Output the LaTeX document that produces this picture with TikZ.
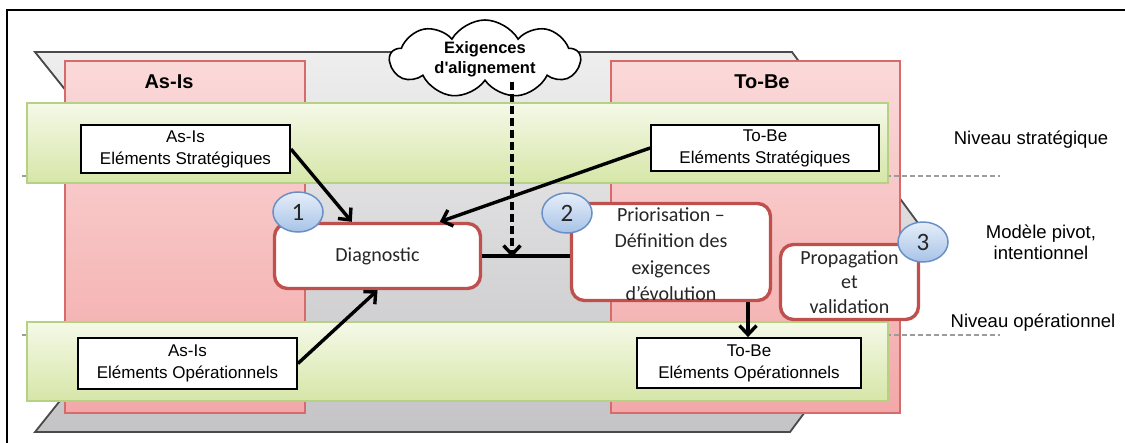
\documentclass[tikz,border=0pt]{standalone}
\usepackage{fontspec}
\setmainfont{Liberation Sans}
\newfontfamily\calib{Carlito}
\newfontfamily\cloudfont[Ligatures=TeXOff]{Liberation Sans}
\usetikzlibrary{arrows.meta,shapes.geometric,shapes.symbols,calc}

\definecolor{planeTop}{HTML}{EEEEEF}
\definecolor{planeBot}{HTML}{C4C4C6}
\definecolor{planeEdge}{HTML}{4A4A4A}
\definecolor{colTop}{HTML}{FBD9D9}
\definecolor{colBot}{HTML}{F3A8A8}
\definecolor{colEdge}{HTML}{D56B6B}
\definecolor{bandTop}{HTML}{F5F9E8}
\definecolor{bandBot}{HTML}{D6E6A8}
\definecolor{bandEdge}{HTML}{B7D184}
\definecolor{stageRed}{HTML}{C0504D}
\definecolor{dotTop}{HTML}{E6EEF9}
\definecolor{dotBot}{HTML}{A8C3E7}
\definecolor{dotEdge}{HTML}{6890C6}
\definecolor{levelGray}{HTML}{9C9C9C}
\definecolor{stageText}{HTML}{262626}

\begin{document}
\begin{tikzpicture}[x=1pt,y=-1pt,
  plane/.style={draw=planeEdge, line width=1.8pt, top color=planeTop, bottom color=planeBot},
  column/.style={draw=colEdge, line width=1.6pt, top color=colTop, bottom color=colBot},
  band/.style={draw=bandEdge, line width=2.2pt, top color=bandTop, bottom color=bandBot},
  levelline/.style={draw=levelGray, line width=1.6pt, dash pattern=on 5pt off 3pt},
  coltitle/.style={font=\bfseries\fontsize{20}{24}\selectfont},
  elbox/.style={draw=black, line width=1.8pt, fill=white, align=center, inner sep=0pt,
    font=\fontsize{17}{22}\selectfont},
  stagebox/.style={draw=stageRed, line width=3.4pt, fill=white, rounded corners=13pt,
    inner sep=0pt},
  stagetext/.style={align=center, text=stageText, inner sep=0pt},
  numdot/.style={ellipse, draw=dotEdge, line width=1.5pt, top color=dotTop, bottom color=dotBot,
    minimum width=50pt, minimum height=40pt, inner sep=0pt, text=stageText,
    font=\calib\fontsize{25}{25}\selectfont},
  sidelabel/.style={align=center, inner sep=0pt, font=\fontsize{18.5}{21}\selectfont},
  arr/.style={line width=3.4pt, -{Straight Barb[length=9pt,width=17pt,line width=3.4pt]}},
  link/.style={line width=3.4pt},
  dasharr/.style={line width=3.4pt, dash pattern=on 8pt off 4pt,
    -{Straight Barb[length=9pt,width=17pt,line width=3.4pt]}}
]
\useasboundingbox (0,0) rectangle (1125,442);

% outer frame, open on the right and at the bottom
\draw[line width=2.4pt] (1127,10) -- (7,10) -- (7,444);

% pivot plane, drawn as a right-pointing chevron
\draw[plane] (35,52) -- (792,52) -- (932,242) -- (790,432) -- (35,432) -- (187,242) -- cycle;

% As-Is and To-Be columns
\draw[column] (65,61) rectangle (305,413);
\draw[column] (611,61) rectangle (900,413);
\node[coltitle] (asisTitle) at (169,82) {As-Is};
\node[coltitle] (tobeTitle) at (762,82) {To-Be};

% level separators
\draw[levelline] (22,176) -- (1000,176);
\draw[levelline] (22,335) -- (1000,335);

% strategic and operational bands
\draw[band] (27,103) rectangle (888,183);
\draw[band] (27,322) rectangle (888,401);

% element boxes
\node[elbox, minimum width=209pt, minimum height=48pt] (ases) at (185.5,149) {As-Is\\Eléments Stratégiques};
\node[elbox, minimum width=228pt, minimum height=46pt] (tbes) at (765,148) {To-Be\\Eléments Stratégiques};
\node[elbox, minimum width=219pt, minimum height=51pt] (aseo) at (187.5,363.5) {As-Is\\Eléments Opérationnels};
\node[elbox, minimum width=224pt, minimum height=50pt] (tbeo) at (749,363) {To-Be\\Eléments Opérationnels};

% right-hand level labels
\node[sidelabel] (lvlStrat) at (1031,140) {Niveau stratégique};
\node[sidelabel] (lvlPivot) at (1041,242) {Modèle pivot,\\intentionnel};
\node[sidelabel] (lvlOper) at (1033,323) {Niveau opérationnel};

% process steps
\node[stagebox, minimum width=206pt, minimum height=65pt] (diag) at (377.5,256) {};
\node[stagetext, font=\calib\fontsize{20}{26}\selectfont] (diagText) at (diag.center) {Diagnostic};
\node[stagebox, minimum width=199pt, minimum height=97pt] (prio) at (671,252) {};
\node[stagetext, font=\calib\fontsize{20}{26.5}\selectfont] (prioText) at (671,254) {Priorisation –\\Définition des\\exigences\\d’évolution};
\node[stagebox, minimum width=138pt, minimum height=75pt] (prop) at (849.5,282) {};
\node[stagetext, font=\calib\fontsize{20}{24.5}\selectfont] (propText) at (prop.center) {Propagation\\et\\validation};

% connectors
\draw[arr] (ases.east) -- ($(diag.north west)+(79,0)$);
\draw[arr] (tbes.west) -- ($(diag.north west)+(167,0)$);
\draw[arr] (aseo.east) -- (diag.south);
\draw[link] (diag.east) -- (diag.east -| prio.west);
\path (prio.south) ++(77,0) coordinate (prioDrop);
\draw[arr] (prioDrop) -- (prioDrop |- tbeo.north);

% alignment requirements cloud
\node[cloud, cloud puffs=9, cloud puff arc=120, aspect=2.8, draw=black, line width=1.6pt,
  fill=white, minimum width=190pt, minimum height=78pt, inner sep=0pt, align=center,
  font=\cloudfont\bfseries\fontsize{16.5}{20}\selectfont] (cloud) at (485,59) {Exigences\\d'alignement};
\coordinate (joint) at (512,257);
\draw[dasharr] (joint |- cloud.south) -- (joint);

% step numbers
\node[numdot] (n1) at (298,212) {1};
\node[numdot] (n2) at (567,213) {2};
\node[numdot] (n3) at (923,242) {3};
\end{tikzpicture}
\end{document}
